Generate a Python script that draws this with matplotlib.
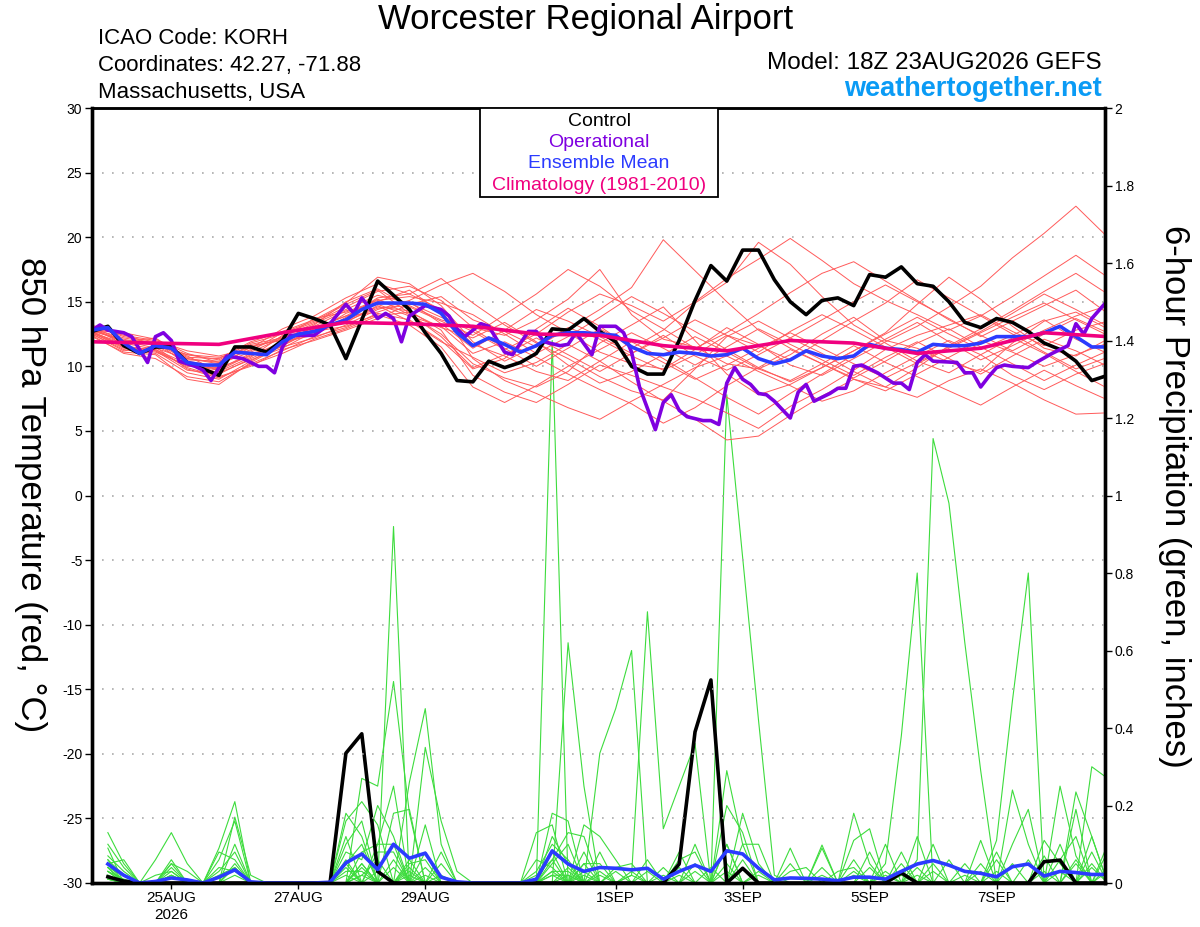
import numpy as np
import matplotlib
matplotlib.use('Agg')
import matplotlib.pyplot as plt
from matplotlib.patches import Rectangle

plt.rcParams['font.family'] = ['Liberation Sans', 'DejaVu Sans']
plt.rcParams['axes.unicode_minus'] = False

# model run start and forecast hours
run_start = np.datetime64('2026-08-23T18:00')
temp_hours = np.arange(0, 385, 6)      # 6-hourly temps
ens_hours = np.arange(0, 385, 12)      # members read at 12-hourly points
precip_hours = np.arange(6, 385, 6)    # 6-hour precip totals

# 850 hPa temperature, control run (C)
ctrl_temp = [12.7, 13.1, 11.6, 11.0, 11.5, 11.5, 10.3, 9.8,
             9.3, 11.5, 11.5, 11.1, 12.0, 14.1, 13.7, 13.2,
             10.6, 13.6, 16.6, 15.5, 14.4, 12.6, 11.0, 8.9,
             8.8, 10.4, 9.9, 10.3, 11.0, 12.9, 12.8, 13.7,
             12.7, 11.9, 10.0, 9.4, 9.4, 12.0, 15.1, 17.8,
             16.6, 19.0, 19.0, 16.7, 15.0, 14.0, 15.1, 15.3,
             14.7, 17.1, 16.9, 17.7, 16.4, 16.2, 15.0, 13.4,
             13.0, 13.7, 13.4, 12.7, 11.8, 11.3, 10.4, 8.9,
             9.3]

# ensemble mean temperature
mean_temp = [12.8, 13.0, 11.8, 11.0, 11.6, 11.4, 10.3, 10.1,
             10.1, 11.1, 11.0, 10.9, 11.9, 12.5, 12.7, 13.2,
             13.6, 14.4, 14.9, 14.9, 14.9, 14.8, 14.1, 12.6,
             11.6, 12.2, 11.7, 11.1, 11.6, 12.4, 12.6, 12.6,
             12.5, 12.4, 11.5, 11.0, 10.9, 11.1, 11.0, 10.8,
             10.9, 11.4, 10.6, 10.2, 10.5, 11.2, 10.8, 10.6,
             10.8, 11.7, 11.4, 11.3, 11.1, 11.7, 11.6, 11.6,
             11.8, 12.3, 12.3, 12.3, 12.6, 13.1, 12.3, 11.5,
             11.5]

# operational run (finer time steps)
op_hours = [0, 3, 6, 12, 15, 21, 24, 27, 30, 33, 39, 42, 45, 48, 51, 57, 63, 66, 69, 72,
            75, 84, 90, 96, 99, 102, 108, 111, 114, 117, 120, 126, 132, 135, 138, 141,
            147, 150, 156, 159, 165, 168, 171, 177, 180, 183, 189, 192, 198, 201, 204,
            207, 213, 216, 219, 222, 225, 231, 234, 237, 240, 243, 246, 249, 252, 255,
            258, 264, 267, 270, 273, 279, 282, 285, 288, 291, 297, 303, 306, 309, 312,
            315, 318, 327, 330, 333, 336, 339, 342, 345, 348, 354, 357, 363, 366, 369,
            372, 375, 378, 384]
op_temp = [12.8, 13.2, 12.8, 12.6, 12.3, 10.3, 12.3, 12.6, 12.0, 10.4, 10.0, 9.7, 8.9, 9.9,
           10.8, 10.6, 10.0, 10.0, 9.5, 11.5, 12.4, 12.4, 13.3, 14.8, 14.1, 15.3, 13.7, 14.1,
           13.7, 11.9, 13.9, 14.7, 14.4, 13.9, 12.9, 12.3, 13.3, 13.1, 11.1, 10.9, 12.7, 12.7,
           11.9, 11.6, 11.7, 12.6, 10.9, 13.1, 13.1, 12.6, 11.1, 8.4, 5.1, 7.2, 7.8, 6.6, 6.1,
           5.8, 5.8, 5.5, 8.7, 9.9, 9.0, 8.6, 7.9, 7.8, 7.3, 6.0, 8.0, 8.6, 7.3, 7.9, 8.3, 8.3,
           10.0, 10.1, 9.5, 8.7, 8.7, 8.2, 10.3, 10.9, 10.4, 10.3, 9.5, 9.5, 8.4, 9.2, 9.9,
           10.1, 10.0, 9.9, 10.3, 11.0, 11.3, 11.6, 13.3, 12.5, 13.7, 15.1]

# climatology 1981-2010
clim_hours = [0, 24, 48, 72, 96, 120, 144, 168, 192, 216, 240, 264, 288, 312, 336, 360, 384]
clim_temp = [11.9, 11.8, 11.7, 12.6, 13.4, 13.3, 13.1, 12.5, 12.4, 11.6, 11.2, 12.0, 11.8,
             11.0, 11.4, 12.6, 12.3]

# ensemble members, temperature at 12-hourly points
ens_temp = [
    [12.9, 12.2, 11.8, 10.9, 10.5, 11.8, 12.5, 13.4, 14.6, 15.8, 16.2, 15.1, 13.0, 12.4, 13.6, 15.2, 17.5, 14.0, 12.1, 11.5, 10.2, 9.8, 10.9, 12.5, 13.8, 12.0, 11.4, 10.3, 9.6, 11.8, 13.5, 14.2, 12.9],
    [12.6, 11.5, 11.2, 9.7, 9.4, 10.6, 11.7, 12.9, 13.9, 15.2, 14.0, 12.5, 10.2, 9.1, 8.4, 9.6, 11.8, 13.2, 14.6, 12.0, 9.4, 7.8, 8.6, 9.9, 11.2, 12.6, 14.8, 16.9, 15.2, 13.1, 11.4, 10.8, 12.1],
    [13.1, 12.4, 12.0, 11.2, 10.8, 11.4, 12.9, 13.9, 15.3, 16.4, 15.6, 16.8, 14.9, 13.2, 11.8, 10.6, 9.2, 8.1, 7.4, 9.8, 12.3, 13.5, 12.2, 11.0, 9.6, 8.4, 9.9, 11.6, 12.9, 14.3, 15.8, 17.2, 15.6],
    [12.4, 11.0, 10.6, 9.2, 8.8, 10.2, 11.2, 12.3, 13.0, 14.1, 13.6, 12.0, 9.8, 10.6, 12.9, 14.5, 13.1, 11.4, 12.8, 14.9, 16.5, 19.6, 17.9, 15.4, 13.2, 11.8, 10.4, 9.5, 10.9, 12.2, 11.0, 9.6, 8.3],
    [12.8, 12.0, 11.4, 10.6, 10.2, 11.1, 12.2, 12.6, 14.1, 15.0, 15.9, 14.2, 11.7, 10.8, 9.6, 8.9, 10.4, 11.9, 10.6, 9.1, 7.6, 6.3, 7.9, 9.4, 10.9, 12.1, 13.4, 11.9, 10.5, 11.6, 12.8, 13.9, 14.7],
    [13.0, 11.7, 11.9, 10.1, 9.7, 10.9, 11.5, 12.2, 13.2, 14.4, 15.1, 16.3, 17.2, 15.8, 14.0, 12.6, 11.1, 10.2, 9.8, 11.3, 13.0, 11.7, 10.1, 9.3, 10.6, 11.9, 13.1, 14.6, 16.2, 18.4, 20.3, 22.4, 20.0],
    [12.5, 11.3, 11.0, 9.5, 9.0, 10.4, 11.8, 13.1, 14.3, 14.8, 13.9, 13.1, 11.0, 11.9, 10.7, 9.4, 8.2, 7.1, 5.6, 6.8, 8.5, 9.9, 11.3, 10.2, 9.0, 8.1, 9.4, 10.7, 12.0, 11.1, 10.0, 10.9, 11.8],
    [12.7, 12.1, 11.6, 10.4, 10.0, 11.5, 12.1, 13.2, 15.0, 16.0, 14.6, 13.5, 12.4, 14.0, 15.6, 17.5, 16.2, 14.3, 12.9, 11.4, 12.6, 14.1, 15.7, 17.2, 18.1, 16.6, 15.1, 13.6, 12.4, 11.2, 12.5, 13.7, 12.6],
    [12.9, 11.9, 11.7, 10.8, 9.6, 10.7, 12.4, 12.5, 13.6, 14.6, 14.3, 12.8, 9.3, 8.0, 7.2, 8.6, 10.1, 9.3, 8.4, 7.5, 6.4, 5.2, 6.9, 8.2, 9.7, 11.3, 12.4, 13.2, 14.0, 12.7, 11.6, 12.8, 13.5],
    [12.6, 11.4, 11.3, 9.9, 9.2, 10.0, 11.3, 12.0, 12.8, 13.7, 14.8, 15.4, 13.6, 12.7, 11.5, 12.9, 14.4, 16.1, 19.8, 17.4, 15.0, 12.8, 11.4, 10.2, 9.1, 10.4, 11.8, 12.9, 11.5, 10.2, 8.9, 10.1, 11.2],
    [13.2, 12.3, 11.9, 10.7, 10.6, 11.9, 12.7, 13.6, 14.9, 16.9, 16.4, 14.7, 11.9, 10.4, 11.6, 13.0, 12.1, 10.8, 9.7, 10.9, 12.4, 11.6, 10.5, 12.0, 13.5, 14.9, 16.7, 15.3, 13.9, 12.5, 11.1, 9.8, 10.7],
    [12.3, 11.1, 10.9, 9.0, 8.6, 10.3, 11.6, 12.8, 13.4, 14.7, 13.5, 11.9, 10.7, 9.5, 10.3, 11.7, 10.4, 8.8, 7.3, 5.9, 4.3, 4.6, 6.2, 7.7, 9.0, 8.4, 7.6, 8.9, 9.8, 8.7, 7.4, 6.3, 6.4],
    [12.8, 12.6, 12.1, 11.0, 10.3, 11.3, 12.3, 13.3, 14.4, 15.5, 14.9, 13.8, 12.7, 11.3, 12.5, 14.2, 15.6, 14.7, 13.5, 15.0, 16.8, 18.3, 19.9, 18.2, 16.4, 15.1, 14.0, 12.8, 13.9, 15.4, 17.0, 18.6, 16.9],
    [12.7, 11.6, 11.2, 10.0, 9.9, 10.8, 11.9, 12.4, 13.8, 15.3, 15.6, 14.4, 10.6, 8.9, 7.9, 6.8, 5.9, 7.3, 8.6, 9.9, 10.8, 9.6, 8.5, 7.3, 8.1, 9.5, 10.8, 12.0, 10.9, 9.3, 8.2, 9.4, 10.3],
    [13.0, 12.0, 11.8, 10.5, 10.4, 11.6, 12.0, 13.0, 13.9, 14.2, 15.0, 13.3, 11.4, 12.8, 14.4, 13.5, 12.3, 11.0, 12.2, 13.6, 12.4, 11.1, 12.7, 14.0, 12.8, 11.5, 10.2, 11.4, 12.6, 13.8, 14.9, 13.6, 12.4],
    [12.5, 11.2, 11.5, 9.8, 9.1, 10.1, 11.0, 12.1, 12.9, 13.9, 14.2, 13.0, 12.2, 13.4, 11.9, 10.1, 8.7, 9.6, 10.9, 12.3, 11.1, 9.8, 8.9, 10.2, 11.6, 10.3, 9.2, 8.1, 7.0, 8.4, 9.7, 8.5, 7.4],
    [12.9, 12.5, 11.6, 10.9, 10.7, 11.2, 12.6, 13.5, 14.8, 15.9, 14.1, 12.3, 9.9, 10.9, 12.2, 10.9, 9.6, 11.0, 12.4, 10.8, 9.7, 10.9, 12.2, 13.6, 15.0, 16.3, 15.0, 13.7, 12.3, 13.5, 14.7, 15.9, 14.1],
    [12.6, 11.8, 11.3, 10.2, 9.5, 10.5, 11.4, 12.7, 13.1, 14.0, 13.2, 11.5, 8.4, 7.2, 8.5, 10.0, 11.3, 12.6, 11.4, 10.1, 11.5, 12.9, 11.7, 10.5, 9.3, 10.7, 11.9, 10.6, 9.4, 10.8, 12.1, 11.2, 10.0],
    [12.8, 11.9, 12.2, 10.6, 10.3, 11.7, 12.2, 13.7, 14.2, 15.1, 15.4, 14.9, 14.0, 12.5, 11.0, 12.3, 13.8, 15.4, 14.1, 12.7, 11.3, 9.9, 8.8, 9.9, 11.2, 12.5, 13.8, 12.5, 11.3, 12.4, 13.6, 12.1, 11.0],
    [12.7, 11.5, 11.1, 10.1, 9.8, 11.0, 11.6, 12.9, 13.5, 14.5, 14.7, 13.6, 12.9, 11.4, 10.0, 11.4, 12.9, 11.6, 10.3, 9.0, 10.1, 11.4, 12.6, 11.4, 10.2, 9.1, 10.3, 11.5, 12.7, 14.1, 15.6, 14.4, 13.1],
]

# 6-hour precipitation (inches): control, non-zero periods only
ctrl_precip = {6: 0.016, 12: 0.005, 96: 0.335, 102: 0.385, 108: 0.03,
               222: 0.049, 228: 0.39, 234: 0.524, 246: 0.038, 306: 0.026,
               360: 0.055, 366: 0.059}

# ensemble mean precipitation, 6h to 384h
mean_precip = [0.049, 0.020, 0.0, 0.004, 0.013, 0.008, 0.0, 0.015,
               0.034, 0.003, 0.0, 0.0, 0.0, 0.0, 0.002, 0.052,
               0.075, 0.035, 0.100, 0.064, 0.077, 0.015, 0.003, 0.0,
               0.0, 0.0, 0.0, 0.010, 0.083, 0.049, 0.030, 0.040,
               0.038, 0.034, 0.038, 0.010, 0.030, 0.046, 0.030, 0.083,
               0.075, 0.038, 0.008, 0.013, 0.012, 0.010, 0.006, 0.015,
               0.015, 0.010, 0.030, 0.049, 0.058, 0.046, 0.030, 0.025,
               0.016, 0.042, 0.049, 0.018, 0.030, 0.027, 0.022, 0.022]

# ensemble members precipitation, non-zero periods only
ens_precip = [
    {6: .13, 12: .05, 24: .06, 30: .13, 36: .05, 48: .09, 54: .21, 96: .05, 102: .10, 114: .92,
     126: .08, 168: .03, 174: .10, 180: .06, 240: .29, 246: .10, 288: .06, 348: .10, 354: .19, 378: .08},
    {6: .10, 12: .04, 30: .06, 54: .17, 60: .02, 102: .27, 108: .25, 114: .52, 120: .18, 132: .05,
     174: 1.40, 186: .05, 228: .10, 246: .18, 252: .05, 294: .08, 312: .12, 366: .10},
    {6: .09, 30: .05, 48: .06, 54: .16, 96: .18, 102: .12, 120: .26, 126: .45, 132: .10, 180: .62,
     186: .25, 222: .08, 276: .098, 318: .10, 342: .08, 372: .235, 378: .12},
    {6: .07, 12: .03, 54: .10, 96: .16, 102: .21, 108: .15, 126: .35, 132: .16, 138: .03, 174: .18,
     180: .16, 192: .335, 198: .45, 204: .60, 240: .10, 288: .18, 294: .05, 360: .07, 384: .08},
    {6: .06, 30: .04, 48: .08, 54: .06, 96: .10, 102: .16, 114: .18, 120: .19, 168: .13, 174: .15,
     204: .02, 210: .70, 216: .14, 222: .25, 228: .36, 264: .09, 300: .10, 348: .24, 354: .10},
    {6: .06, 12: .02, 30: .03, 102: .08, 108: .10, 114: .25, 126: .15, 174: .08, 186: .15, 192: .12,
     198: .06, 240: 1.26, 246: .84, 252: .42, 258: .02, 306: .08, 366: .25, 372: .07},
    {6: .05, 54: .04, 96: .08, 102: .06, 108: .20, 114: .12, 174: .06, 180: .13, 186: .12, 222: .06,
     228: .08, 240: .20, 246: .13, 276: .09, 300: .05, 306: .38, 312: .80, 342: .06, 378: .30, 384: .27},
    {6: .05, 12: .06, 30: .02, 96: .06, 108: .10, 114: .10, 132: .02, 174: .05, 180: .10, 192: .08,
     210: .06, 246: .10, 252: .10, 312: .06, 318: 1.147, 324: .98, 330: .62, 336: .29, 372: .19},
    {6: .04, 48: .04, 54: .03, 102: .05, 120: .05, 126: .06, 168: .06, 174: .04, 186: .08, 198: .04,
     204: .05, 264: .03, 270: .04, 288: .11, 294: .14, 342: .11, 348: .47, 354: .80, 378: .05},
    {6: .04, 12: .02, 96: .03, 102: .03, 174: .12, 180: .05, 216: .04, 228: .05, 240: .10, 282: .03,
     288: .04, 336: .11, 366: .06, 372: .12},
    {6: .04, 30: .05, 36: .03, 54: .05, 96: .12, 120: .03, 186: .05, 192: .05, 204: .03, 222: .04,
     276: .04, 306: .05, 336: .05, 384: .10},
    {6: .03, 24: .02, 30: .03, 108: .08, 114: .08, 174: .03, 180: .03, 198: .03, 210: .03, 234: .04,
     300: .03, 312: .04, 360: .11, 366: .05},
    {6: .03, 48: .03, 54: .08, 102: .04, 120: .06, 132: .08, 180: .04, 192: .03, 246: .06, 294: .04,
     318: .05, 330: .05, 372: .05},
    {6: .03, 12: .01, 96: .02, 114: .06, 126: .04, 174: .02, 186: .03, 252: .03, 276: .02, 306: .03,
     348: .05, 378: .12},
    {6: .02, 30: .02, 102: .02, 108: .06, 168: .02, 174: .06, 204: .02, 240: .05, 288: .02, 324: .06,
     354: .06, 384: .04},
    {6: .02, 48: .02, 54: .04, 96: .04, 120: .04, 192: .02, 228: .03, 264: .05, 300: .02, 342: .03,
     366: .03},
    {6: .02, 102: .05, 114: .04, 174: .02, 180: .02, 216: .02, 246: .04, 312: .02, 336: .03, 372: .06},
    {6: .01, 30: .02, 96: .05, 126: .02, 186: .02, 222: .02, 288: .03, 330: .02, 378: .04},
    {6: .01, 54: .02, 108: .03, 180: .02, 240: .03, 306: .02, 360: .03},
    {6: .01, 102: .02, 120: .02, 174: .03, 252: .02, 318: .03, 384: .03},
]

# x axis date labels
tick_dates = ['2026-08-25', '2026-08-27', '2026-08-29', '2026-09-01',
              '2026-09-03', '2026-09-05', '2026-09-07']
tick_labels = ['25AUG\n2026', '27AUG', '29AUG', '1SEP', '3SEP', '5SEP', '7SEP']

legend_names = ['Control', 'Operational', 'Ensemble Mean', 'Climatology (1981-2010)']
legend_colors = ['black', '#7f00e0', '#2b3bff', '#f0007f']


def to_time(hours):
    return run_start + np.asarray(hours).astype('timedelta64[h]')


def expand(d):
    return [d.get(int(h), 0.0) for h in precip_hours]


fig = plt.figure(figsize=(12, 9.27), dpi=100)
ax = fig.add_axes([92 / 1200, 1 - 883 / 927, 1013 / 1200, 775 / 927])
ax2 = ax.twinx()
ax.set_zorder(ax2.get_zorder() + 1)
ax.patch.set_visible(False)

# precipitation on the right axis
for m in ens_precip:
    ax2.plot(to_time(precip_hours), expand(m), color='#3ddc3d', lw=0.8)
ax2.plot(to_time(precip_hours), expand(ctrl_precip), color='black', lw=2.6)
ax2.plot(to_time(precip_hours), mean_precip, color='#2b3bff', lw=2.6)

# temperature on the left axis
for m in ens_temp:
    ax.plot(to_time(ens_hours), m, color='#ff5a5a', lw=0.7)
ax.plot(to_time(temp_hours), ctrl_temp, color='black', lw=2.6)
ax.plot(to_time(op_hours), op_temp, color='#7f00e0', lw=2.6)
ax.plot(to_time(temp_hours), mean_temp, color='#2b3bff', lw=2.6)
ax.plot(to_time(clim_hours), clim_temp, color='#f0007f', lw=2.6)

ax.set_xlim(to_time(0), to_time(383))
ax.set_ylim(-30, 30)
ax.set_yticks(range(-30, 31, 5))
ax.yaxis.grid(True, color='#aaaaaa', linestyle=(0, (1, 5)), lw=1.2)
ax2.set_ylim(0, 2)
ax2.set_yticks(np.arange(0, 2.01, 0.2))
ax2.set_yticklabels(['%g' % round(v, 1) for v in np.arange(0, 2.01, 0.2)])

ax.set_xticks(to_time([(np.datetime64(d) - run_start) / np.timedelta64(1, 'h') for d in tick_dates]))
ax.set_xticklabels(tick_labels)

ax.tick_params(axis='y', direction='out', length=5, width=1, labelsize=10, pad=2)
ax2.tick_params(axis='y', direction='out', length=5, width=1, labelsize=10, pad=2)
ax.tick_params(axis='x', direction='out', length=4, width=1, labelsize=11, pad=2)

for a in (ax, ax2):
    for side in ('left', 'right', 'bottom'):
        a.spines[side].set_linewidth(2.4)
    a.spines['top'].set_linewidth(1.8)

# legend box with coloured, centred text
ax.add_patch(Rectangle((0.383, 0.885), 0.235, 0.115, transform=ax.transAxes,
                       facecolor='white', edgecolor='black', lw=1.3, zorder=10))
for i, (name, c) in enumerate(zip(legend_names, legend_colors)):
    ax.text(0.5005, 0.983 - i * 0.0275, name, color=c, transform=ax.transAxes,
            ha='center', va='center', fontsize=14, zorder=11)

# header texts
fig.text(0.488, 0.9795, 'Worcester Regional Airport', ha='center', va='center', fontsize=25)
fig.text(0.0817, 0.958, 'ICAO Code: KORH', va='center', fontsize=16)
fig.text(0.0817, 0.929, 'Coordinates: 42.27, -71.88', va='center', fontsize=16)
fig.text(0.0817, 0.900, 'Massachusetts, USA', va='center', fontsize=16)
fig.text(0.918, 0.932, 'Model: 18Z 23AUG2026 GEFS', ha='right', va='center', fontsize=17.5)
fig.text(0.918, 0.904, 'weathertogether.net', ha='right', va='center', fontsize=19.5,
         fontweight='bold', color='#0a9bf5')

fig.text(0.025, 0.466, '850 hPa Temperature (red, °C)', rotation=270,
         ha='center', va='center', fontsize=25)
fig.text(0.979, 0.465, '6-hour Precipitation (green, inches)', rotation=270,
         ha='center', va='center', fontsize=25)

fig.savefig('out.png', dpi=100)
